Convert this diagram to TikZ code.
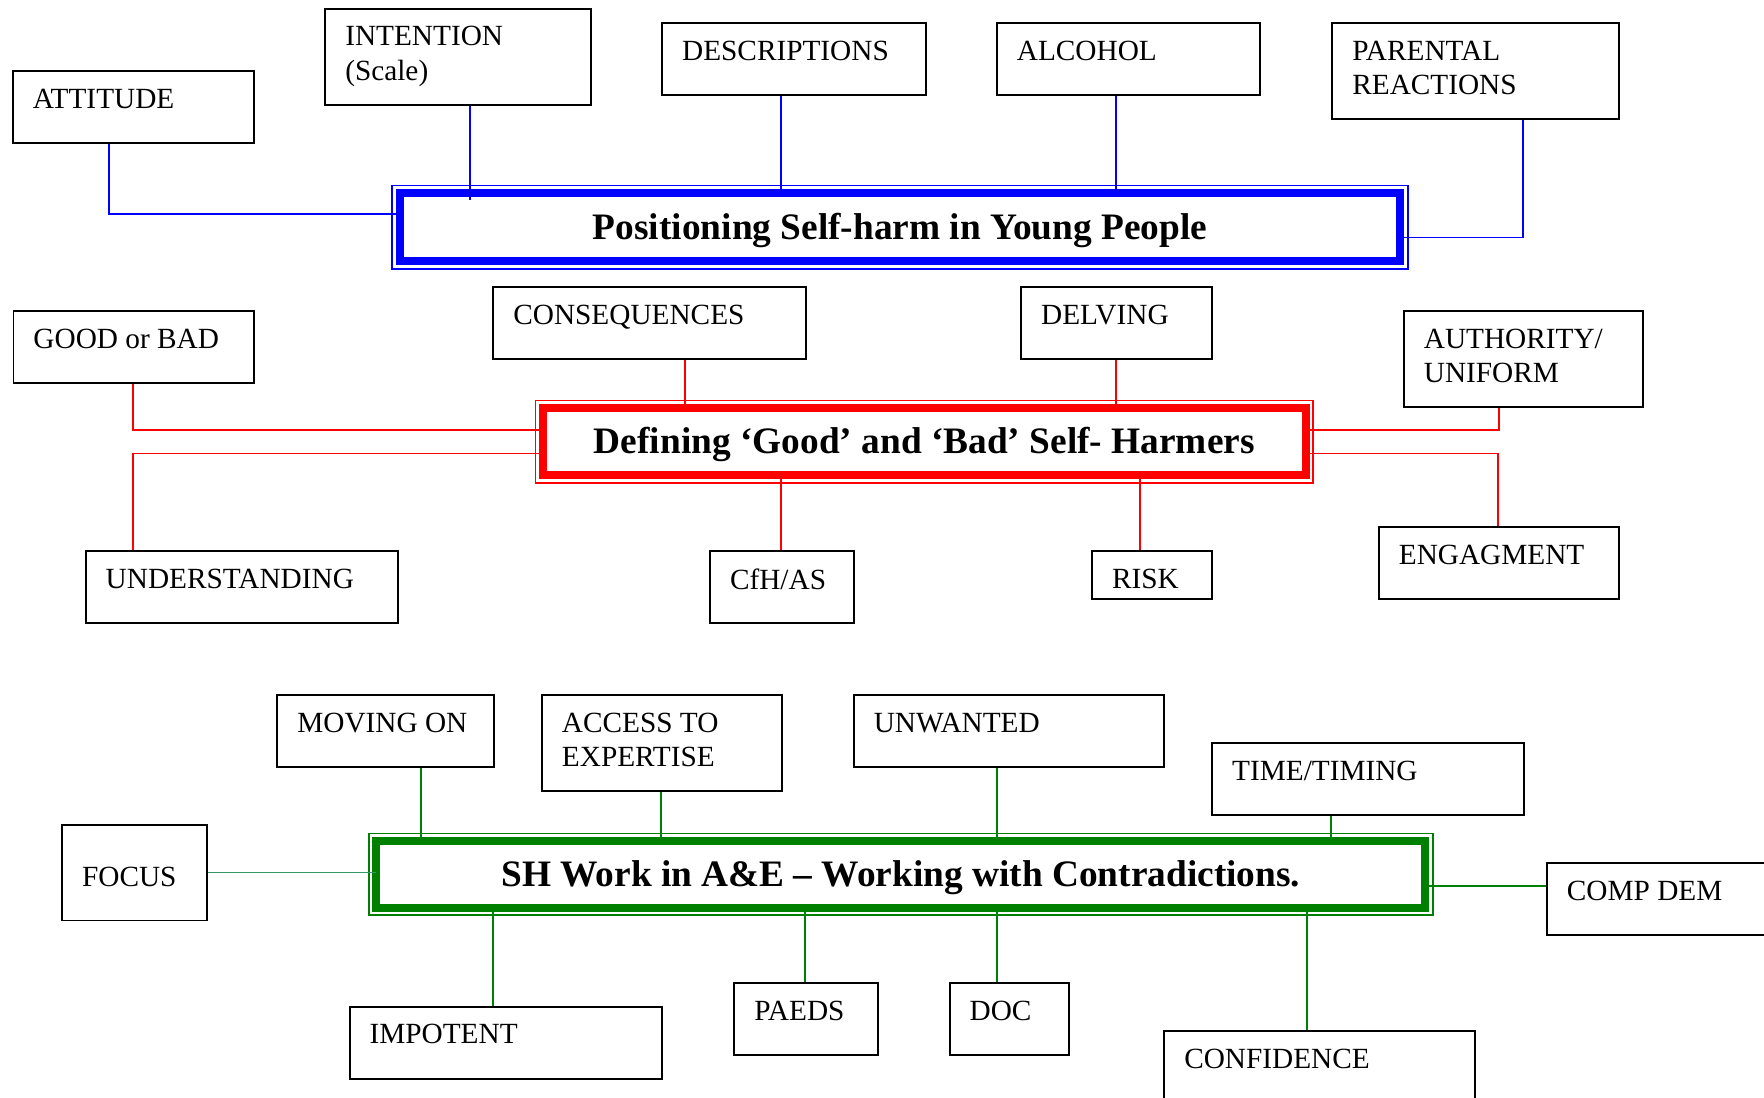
\documentclass[tikz,border=0pt]{standalone}
\usepackage{fontspec}
\setmainfont{Liberation Serif}
\usepackage{tikz}
\usetikzlibrary{positioning}
\definecolor{dkgreen}{RGB}{0,128,0}
\definecolor{focusgreen}{RGB}{51,153,102}

\begin{document}
\begin{tikzpicture} [
	box/.style={draw, line width=0.8pt, anchor=north west, minimum width=3.47cm, minimum height=1.04cm, inner sep=0pt},
	txt/.style={anchor=north west, inner sep=0pt, xshift=0.295cm, yshift=-0.265cm, align=left, font=\fontsize{12}{14}\selectfont},
	title/.style={draw, line width=3.3pt, outer sep=0pt, text height=10pt, text depth=0pt, font=\fontsize{15.3}{18}\selectfont\bfseries},
	ring/.style={line width=0.7pt},
	link/.style={line width=0.75pt},
	label distance=0pt]
	\path[use as bounding box, fill=white] (0,0) rectangle (25.4,15.81);
	%%%	Positioning
	\node[title, draw=blue, minimum width=14.41cm, minimum height=0.98cm] (pos) at (12.96,12.54) {Positioning Self-harm in Young People};
	\draw[ring, blue] ([shift={(-.11,.11)}]pos.north west) rectangle ([shift={(.11,-.11)}]pos.south east);
	\node[box, label={[txt]north west:ATTITUDE}] (att) at (0.17,14.80) {};
	\node[box, minimum width=3.82cm, minimum height=1.39cm, label={[txt]north west:INTENTION\\(Scale)}] (int) at (4.67,15.70) {};
	\node[box, minimum width=3.80cm, label={[txt]north west:DESCRIPTIONS}] (desc) at (9.52,15.49) {};
	\node[box, minimum width=3.79cm, label={[txt]north west:ALCOHOL}] (alc) at (14.34,15.49) {};
	\node[box, minimum width=4.13cm, minimum height=1.38cm, label={[txt]north west:PARENTAL\\REACTIONS}] (par) at (19.17,15.49) {};
	\draw[link, blue] ([xshift=1.40cm]att.south west) |- ([yshift=.19cm]pos.west);
	\draw[link, blue] ([xshift=2.10cm]int.south west) -- ([xshift=2.10cm, yshift=-.10cm]int.south west |- pos.north);
	\draw[link, blue] ([xshift=1.72cm]desc.south west) -- ([xshift=1.72cm]desc.south west |- pos.north);
	\draw[link, blue] ([xshift=1.73cm]alc.south west) -- ([xshift=1.73cm]alc.south west |- pos.north);
	\draw[link, blue] ([xshift=2.76cm]par.south west) |- ([yshift=-.15cm]pos.east);
	%%%	Defining
	\node[title, draw=red, minimum width=10.98cm, minimum height=0.965cm] (def) at (13.31,9.45) {Defining ‘Good’ and ‘Bad’ Self- Harmers};
	\draw[ring, red] ([shift={(-.11,.11)}]def.north west) rectangle ([shift={(.11,-.11)}]def.south east);
	\node[box, minimum width=3.46cm, label={[txt]north west:GOOD or BAD}] (good) at (0.18,11.35) {};
	\node[box, minimum width=4.50cm, label={[txt]north west:CONSEQUENCES}] (cons) at (7.09,11.69) {};
	\node[box, minimum width=2.75cm, label={[txt]north west:DELVING}] (delv) at (14.69,11.69) {};
	\node[box, minimum width=3.45cm, minimum height=1.38cm, label={[txt]north west:AUTHORITY/\\UNIFORM}] (auth) at (20.20,11.35) {};
	\node[box, minimum width=4.49cm, label={[txt]north west:UNDERSTANDING}] (und) at (1.22,7.89) {};
	\node[box, minimum width=2.07cm, label={[txt]north west:CfH/AS}] (cfh) at (10.21,7.89) {};
	\node[box, minimum width=1.73cm, minimum height=0.69cm, label={[txt]north west:RISK}] (risk) at (15.71,7.89) {};
	\node[box, minimum width=3.46cm, label={[txt]north west:ENGAGMENT}] (eng) at (19.84,8.24) {};
	\draw[link, red] ([xshift=1.73cm]good.south west) |- ([yshift=.17cm]def.west);
	\draw[link, red] ([xshift=0.69cm]und.north west) |- ([yshift=-.17cm]def.west);
	\draw[link, red] ([xshift=2.77cm]cons.south west) -- ([xshift=2.77cm]cons.south west |- def.north);
	\draw[link, red] ([xshift=1.38cm]delv.south west) -- ([xshift=1.38cm]delv.south west |- def.north);
	\draw[link, red] ([xshift=1.38cm]auth.south west) |- ([yshift=.17cm]def.east);
	\draw[link, red] ([xshift=1.73cm]eng.north west) |- ([yshift=-.17cm]def.east);
	\draw[link, red] ([xshift=1.03cm]cfh.north west) -- ([xshift=1.03cm]cfh.north west |- def.south);
	\draw[link, red] ([xshift=0.70cm]risk.north west) -- ([xshift=0.70cm]risk.north west |- def.south);
	%%%	SH Work
	\node[title, draw=dkgreen, minimum width=15.10cm, minimum height=0.96cm] (sh) at (12.97,3.22) {SH Work in A\&E -- Working with Contradictions.};
	\draw[ring, dkgreen] ([shift={(-.11,.11)}]sh.north west) rectangle ([shift={(.11,-.11)}]sh.south east);
	\node[box, minimum width=3.12cm, label={[txt]north west:MOVING ON}] (mov) at (3.98,5.82) {};
	\node[box, minimum width=3.45cm, minimum height=1.38cm, label={[txt]north west:ACCESS TO\\EXPERTISE}] (acc) at (7.79,5.82) {};
	\node[box, minimum width=4.47cm, label={[txt]north west:UNWANTED}] (unw) at (12.28,5.82) {};
	\node[box, minimum width=4.49cm, label={[txt]north west:TIME/TIMING}] (time) at (17.44,5.13) {};
	\node[box, minimum width=2.08cm, minimum height=1.38cm, label={[txt, yshift=-.36cm]north west:FOCUS}] (foc) at (0.88,3.95) {};
	\node[box, minimum width=3.25cm, label={[txt]north west:COMP DEM}] (comp) at (22.26,3.40) {};
	\node[box, minimum width=4.50cm, label={[txt]north west:IMPOTENT}] (imp) at (5.02,1.33) {};
	\node[box, minimum width=2.07cm, label={[txt]north west:PAEDS}] (paed) at (10.56,1.67) {};
	\node[box, minimum width=1.72cm, label={[txt]north west:DOC}] (doc) at (13.66,1.67) {};
	\node[box, minimum width=4.48cm, label={[txt]north west:CONFIDENCE}] (conf) at (16.75,0.98) {};
	\draw[link, dkgreen] ([xshift=2.08cm]mov.south west) -- ([xshift=2.08cm]mov.south west |- sh.north);
	\draw[link, dkgreen] ([xshift=1.73cm]acc.south west) -- ([xshift=1.73cm]acc.south west |- sh.north);
	\draw[link, dkgreen] ([xshift=2.07cm]unw.south west) -- ([xshift=2.07cm]unw.south west |- sh.north);
	\draw[link, dkgreen] ([xshift=1.72cm]time.south west) -- ([xshift=1.72cm]time.south west |- sh.north);
	\draw[link, focusgreen] (foc.east) -- (foc.east -| sh.west);
	\draw[link, dkgreen] ([yshift=-.17cm]sh.east) -- ([yshift=-.17cm]sh.east -| comp.west);
	\draw[link, dkgreen] ([xshift=2.08cm]imp.north west) -- ([xshift=2.08cm]imp.north west |- sh.south);
	\draw[link, dkgreen] ([xshift=1.03cm]paed.north west) -- ([xshift=1.03cm]paed.north west |- sh.south);
	\draw[link, dkgreen] ([xshift=0.69cm]doc.north west) -- ([xshift=0.69cm]doc.north west |- sh.south);
	\draw[link, dkgreen] ([xshift=2.07cm]conf.north west) -- ([xshift=2.07cm]conf.north west |- sh.south);
\end{tikzpicture}
\end{document}
